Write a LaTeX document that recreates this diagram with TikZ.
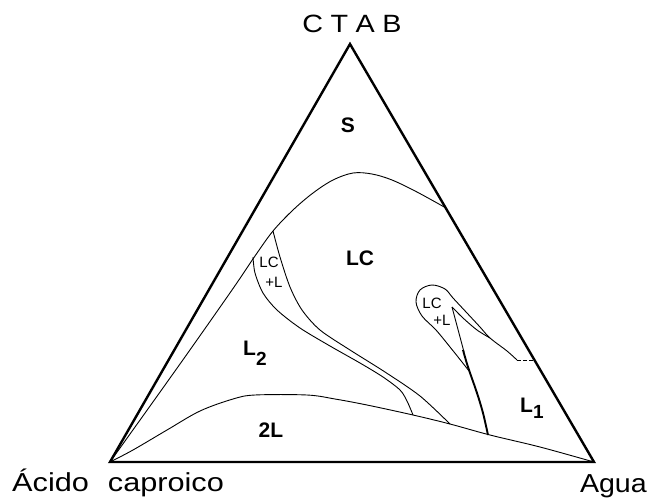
\documentclass[tikz,border=0pt]{standalone}
\usepackage{fontspec}
\setmainfont{Liberation Sans}
\begin{document}
\begin{tikzpicture}[x=1pt,y=-1pt,
  edge/.style={line width=2.4pt, line join=miter},
  thinline/.style={line width=0.9pt},
  thickline/.style={line width=1.9pt},
  vlabel/.style={font=\fontsize{26}{26}\selectfont, inner sep=0pt},
  rlabel/.style={font=\bfseries\fontsize{21}{21}\selectfont, inner sep=0pt},
  slabel/.style={font=\fontsize{15}{15}\selectfont, inner sep=0pt}]
\useasboundingbox (0,0) rectangle (649,499);
\coordinate (A) at (350,44);
\coordinate (B) at (110,462);
\coordinate (C) at (594,462);
% phase boundaries
\draw[thinline] plot[smooth, tension=0.55] coordinates {(110,462) (180,364) (232,290) (255,256) (273,231) (293,210) (313,193) (333,180) (353,173) (372,174) (392,180) (417,192) (446,208)};
\draw[thinline] plot[smooth, tension=0.55] coordinates {(110,462) (133,450) (167,430) (200,411) (233,399) (255,395) (307,395) (335,399) (367,405) (413,415) (450,424) (490,435) (540,447) (594,462)};
\draw[thinline] plot[smooth, tension=0.5] coordinates {(253,257) (255,273) (263,293) (277,310) (300,328) (330,346) (360,363) (383,377) (400,390) (407,401) (413,415)};
\draw[thinline] plot[smooth, tension=0.5] coordinates {(273,231) (280,257) (290,287) (302,310) (320,330) (350,350) (385,372) (420,396) (450,424)};
% right LC+L loop
\draw[thinline] plot[smooth, tension=0.55] coordinates {(517,360) (507,351) (490,338) (480,327) (467,313) (453,298) (445,289) (432,285) (420,290) (416,302) (422,316) (436,330) (450,347) (462,362) (469,371)};
\draw[thinline, dash pattern=on 4pt off 2pt] (517,360) -- (534,360);
\draw[thinline] plot[smooth, tension=0.5] coordinates {(490,338) (477,330) (463,318) (452,307)};
\draw[thinline] (452,307) -- (460,337) -- (464,352);
\draw[thickline] plot[smooth, tension=0.5] coordinates {(463,350) (468,367) (477,393) (483,413) (488,435)};
% triangle
\draw[edge] (A) -- (B) -- (C) -- cycle;
% labels
\node[font=\fontsize{25}{25}\selectfont, inner sep=0pt] (ctab) at (352,24) {\scalebox{1.15}[1]{C\hspace{6.5pt}T\hspace{6.5pt}A\hspace{6.5pt}B}};
\node[vlabel, anchor=base west] (acid) at (12,491) {\scalebox{1.18}[1]{Ácido\hspace{0.62em}caproico}};
\node[vlabel, anchor=base east] (water) at (647,492) {\scalebox{1.1}[1]{Agua}};
\node[rlabel] (s) at (348,125) {S};
\node[rlabel] (lc) at (360,258) {LC};
\node[rlabel, anchor=base west] (ltwo) at (243,355) {L\raisebox{-10pt}{\fontsize{19}{19}\selectfont 2}};
\node[rlabel] (twol) at (271,430) {2L};
\node[rlabel, anchor=base west] (lone) at (520,412) {L\raisebox{-6pt}{\fontsize{19}{19}\selectfont 1}};
\node[slabel] (lca) at (269,262) {LC};
\node[slabel] (pla) at (274,282) {+L};
\node[slabel] (lcb) at (432,303) {LC};
\node[slabel] (plb) at (442,320) {+L};
\end{tikzpicture}
\end{document}
